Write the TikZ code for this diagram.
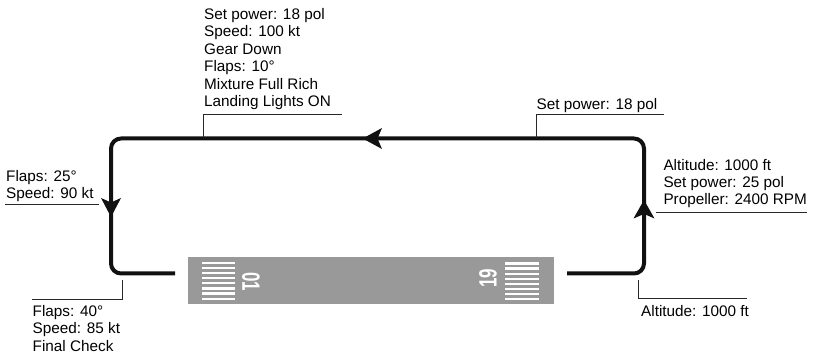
\documentclass[tikz,border=0pt]{standalone}
\usepackage{fontspec}
\setmainfont{Liberation Sans}
\definecolor{runway}{RGB}{153,153,153}
\definecolor{leader}{RGB}{40,40,40}
\definecolor{pathc}{RGB}{17,17,17}
\tikzset{
  lbl/.style={anchor=north west, inner sep=0pt, align=left, font=\fontsize{15.3}{17.4}\selectfont},
  leaderline/.style={draw=leader, line width=1pt},
  circuit/.style={draw=pathc, line width=4pt, rounded corners=10pt},
  ahead/.style={fill=pathc},
  stripe/.style={draw=white, line width=2.2pt},
  rwnum/.style={text=white, inner sep=0pt, font=\fontsize{25}{25}\selectfont\bfseries}
}
\begin{document}
\begin{tikzpicture}[x=1pt,y=-1pt]
\useasboundingbox (0,0) rectangle (814,355);
% runway
\fill[runway] (188,257) rectangle (554,304.5);
\foreach \i in {0,...,7} {
  \draw[stripe] (202,{263+5.1*\i}) -- (235,{263+5.1*\i});
  \draw[stripe] (505,{263.5+5.1*\i}) -- (538.5,{263.5+5.1*\i});
}
\node[rwnum, rotate=-90] (n01) at (251,281.7) {\scalebox{0.68}[1]{01}};
\node[rwnum, rotate=90] (n19) at (488,278.5) {\scalebox{0.68}[1]{19}};
% circuit
\coordinate (s) at (175,273.5);
\coordinate (c1) at (111,273.5);
\coordinate (c2) at (111,138.5);
\coordinate (c3) at (644,138.5);
\coordinate (c4) at (644,273.5);
\coordinate (e) at (567,273.5);
\draw[circuit] (s) -- (c1) -- (c2) -- (c3) -- (c4) -- (e);
% arrowheads
\fill[ahead] (111,217) -- (101,198) -- (111,202.5) -- (121,198) -- cycle;
\fill[ahead] (362.7,138.5) -- (382,128) -- (377.5,138.5) -- (382,149) -- cycle;
\fill[ahead] (644,200) -- (633.5,218.5) -- (644,214) -- (654.5,218.5) -- cycle;
% labels
\node[lbl] (tl) at (204,8.3) {Set power: 18 pol\\Speed: 100 kt\\Gear Down\\Flaps: 10°\\Mixture Full Rich\\Landing Lights ON};
\node[lbl] (tr) at (536.5,98.1) {Set power: 18 pol};
\node[lbl] (lf) at (6,169.8) {Flaps: 25°\\Speed: 90 kt};
\node[lbl, font=\fontsize{15.3}{17}\selectfont] (rt) at (663.3,158.8) {Altitude: 1000 ft\\Set power: 25 pol\\Propeller: 2400 RPM};
\node[lbl] (bl) at (32.5,305.3) {Flaps: 40°\\Speed: 85 kt\\Final Check};
\node[lbl] (br) at (641,305.3) {Altitude: 1000 ft};
% leaders
\coordinate (tla) at (203.5,138.5);
\coordinate (tlb) at (203.5,115);
\coordinate (tlc) at (342,115);
\draw[leaderline] (tla) -- (tlb) -- (tlc);
\coordinate (tra) at (536,138.5);
\coordinate (trb) at (536,115);
\coordinate (trc) at (664,115);
\draw[leaderline] (tra) -- (trb) -- (trc);
\coordinate (lfa) at (5,204.5);
\coordinate (lfb) at (98.5,204.5);
\draw[leaderline] (lfa) -- (lfb);
\coordinate (rta) at (656,213);
\coordinate (rtb) at (807,213);
\draw[leaderline] (rta) -- (rtb);
\coordinate (bla) at (122,280.5);
\coordinate (blb) at (122,300);
\coordinate (blc) at (32,300);
\draw[leaderline] (bla) -- (blb) -- (blc);
\coordinate (bra) at (638,280.5);
\coordinate (brb) at (638,298.3);
\coordinate (brc) at (747,298.3);
\draw[leaderline] (bra) -- (brb) -- (brc);
\end{tikzpicture}
\end{document}
